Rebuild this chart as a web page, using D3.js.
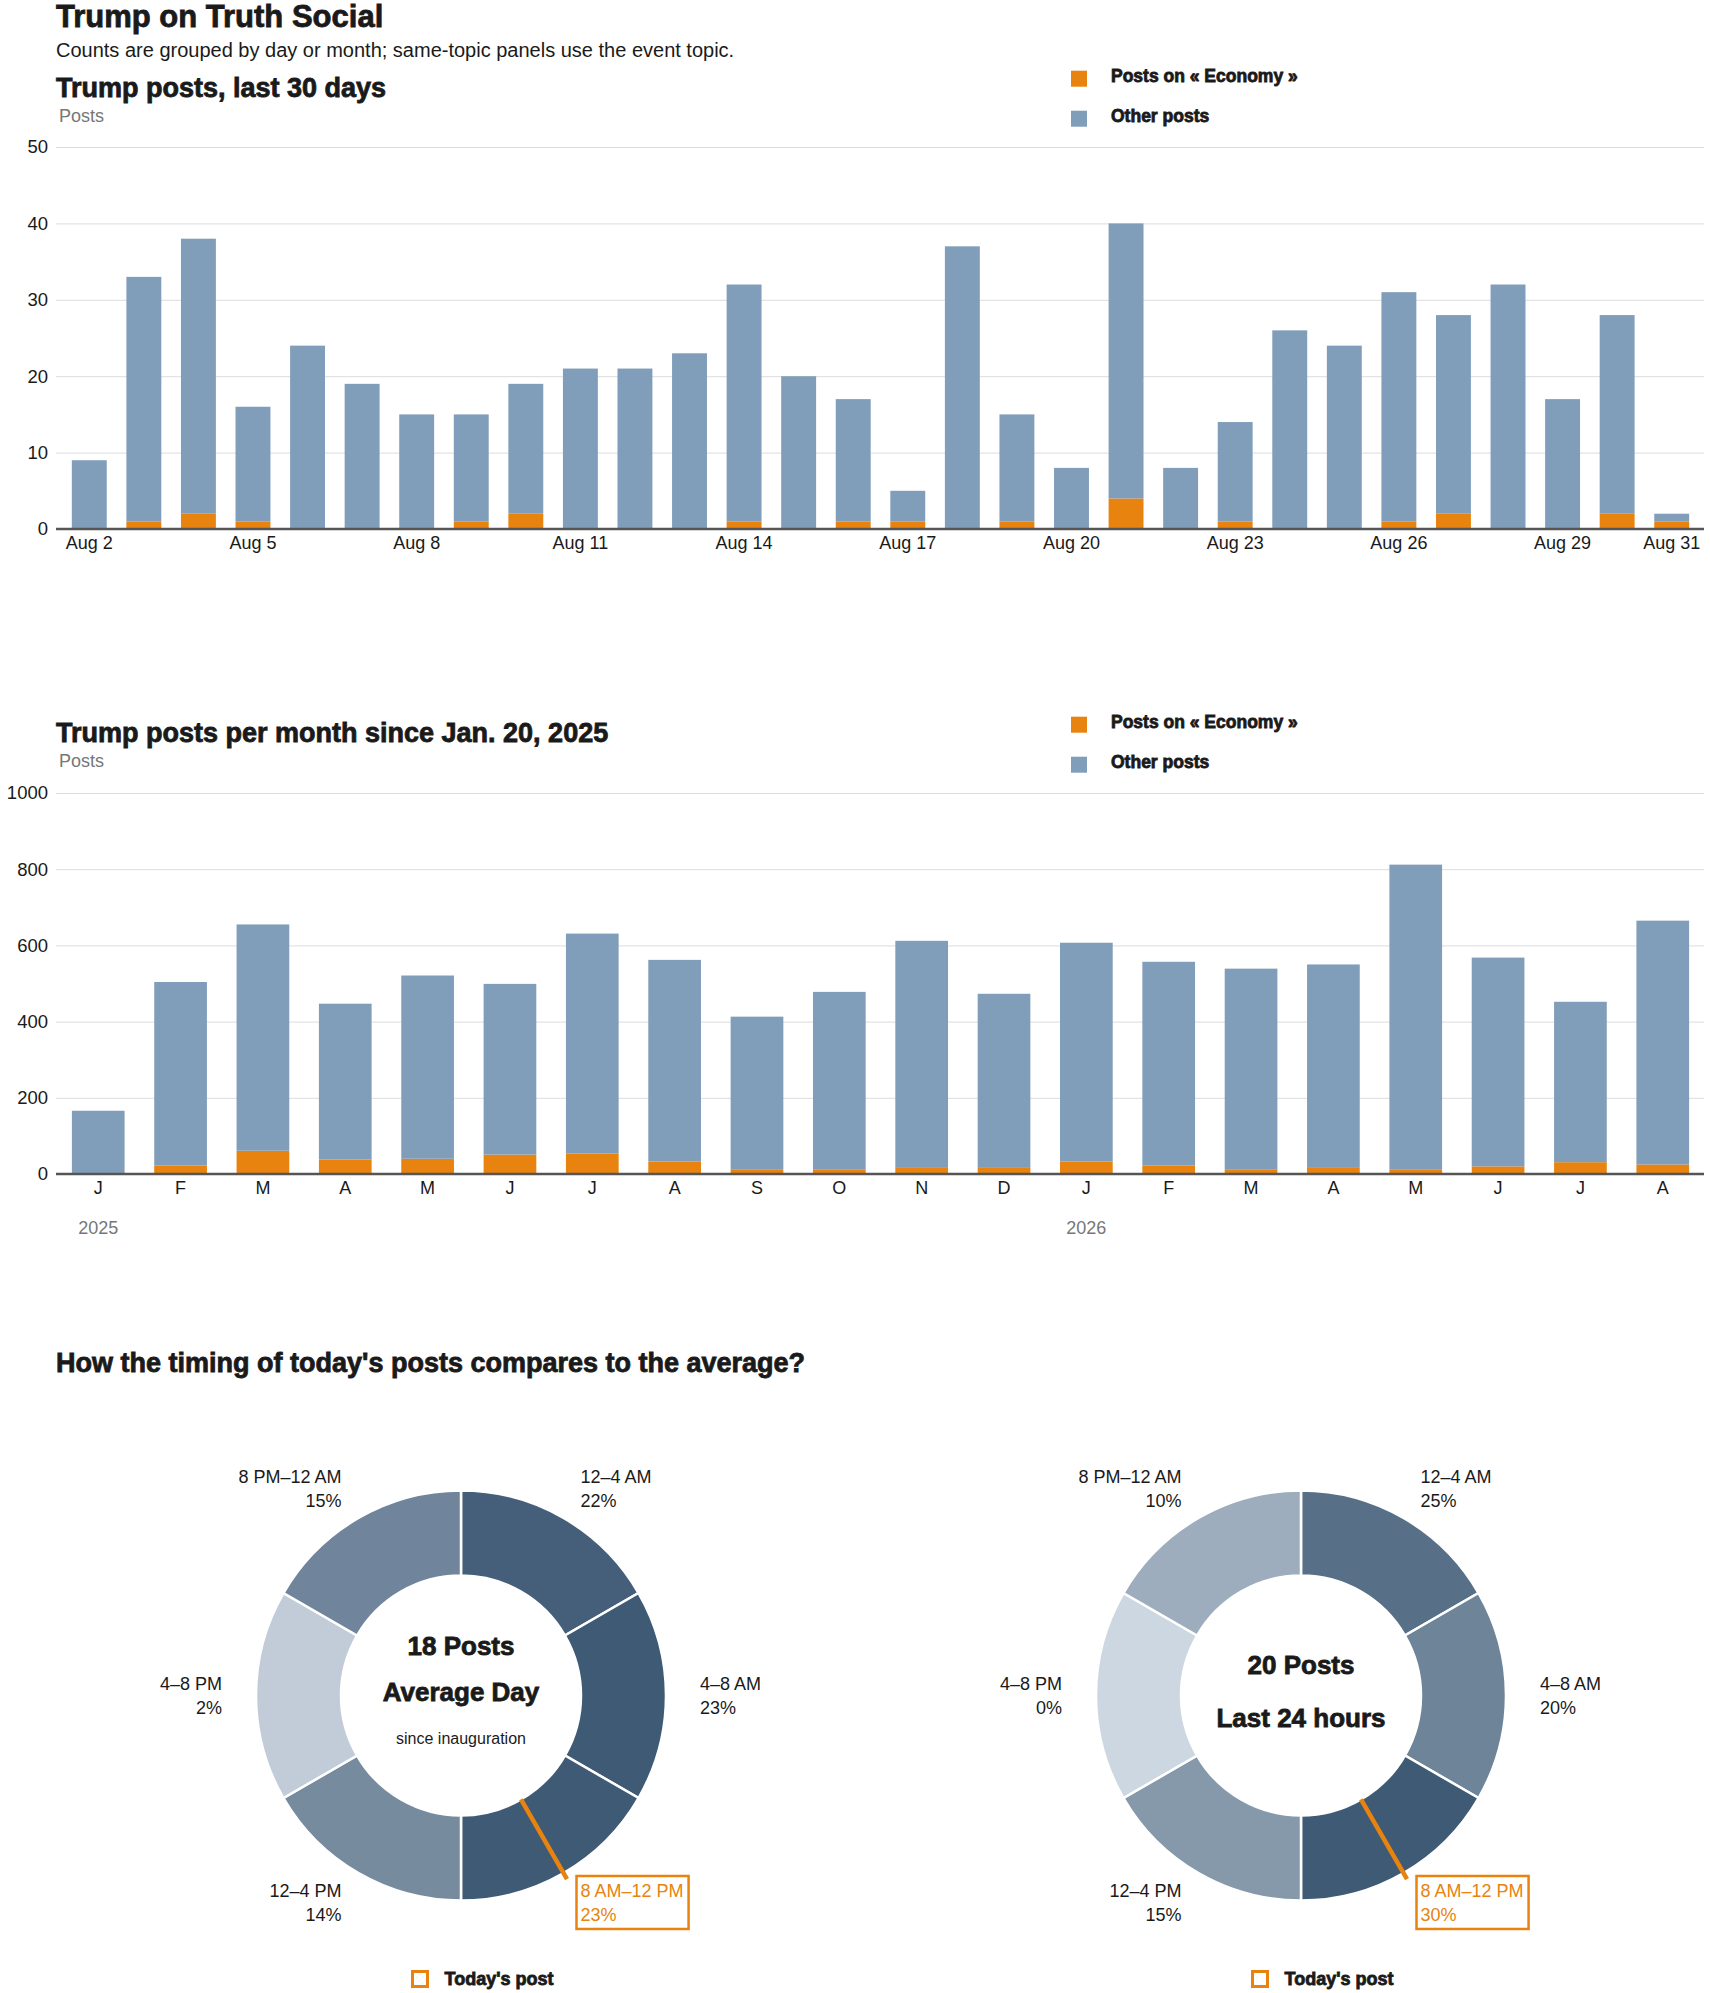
<!DOCTYPE html>
<html>
<head>
<meta charset="utf-8">
<script src="https://cdn.jsdelivr.net/npm/d3@7/dist/d3.min.js"></script>
<style>
  html, body { margin: 0; padding: 0; background: #fff; }
  svg { display: block; font-family: "Liberation Sans", Arial, sans-serif; }
  .heavy { stroke: #1a1a1a; stroke-width: 0.8px; paint-order: stroke; }
</style>
</head>
<body>
<svg id="chart" width="1710" height="1993"></svg>
<script>
// ---------- DATA ----------
const dailyLabels = ["Aug 2","Aug 3","Aug 4","Aug 5","Aug 6","Aug 7","Aug 8","Aug 9","Aug 10","Aug 11",
  "Aug 12","Aug 13","Aug 14","Aug 15","Aug 16","Aug 17","Aug 18","Aug 19","Aug 20","Aug 21",
  "Aug 22","Aug 23","Aug 24","Aug 25","Aug 26","Aug 27","Aug 28","Aug 29","Aug 30","Aug 31"];
const dailyEconomy = [0,1,2,1,0,0,0,1,2,0,0,0,1,0,1,1,0,1,0,4,0,1,0,0,1,2,0,0,2,1];
const dailyOther   = [9,32,36,15,24,19,15,14,17,21,21,23,31,20,16,4,37,14,8,36,8,13,26,24,30,26,32,17,26,1];
const dailyTickLabels = ["Aug 2","Aug 5","Aug 8","Aug 11","Aug 14","Aug 17","Aug 20","Aug 23","Aug 26","Aug 29","Aug 31"];
const dailyYTicks = [0,10,20,30,40,50];

const months = ["2025-01","2025-02","2025-03","2025-04","2025-05","2025-06","2025-07","2025-08","2025-09","2025-10",
  "2025-11","2025-12","2026-01","2026-02","2026-03","2026-04","2026-05","2026-06","2026-07","2026-08"];
const monthLabels = ["J","F","M","A","M","J","J","A","S","O","N","D","J","F","M","A","M","J","J","A"];
const monthlyEconomy = [0,22,61,38,40,51,54,33,11,11,16,16,33,22,11,16,11,20,31,25];
const monthlyOther   = [166,482,594,409,481,448,577,529,402,467,596,457,574,535,528,534,801,548,421,640];
const yearLabels = [{month:"2025-01", label:"2025"}, {month:"2026-01", label:"2026"}];
const monthlyYTicks = [0,200,400,600,800,1000];

const timeSlots = ["12–4 AM","4–8 AM","8 AM–12 PM","12–4 PM","4–8 PM","8 PM–12 AM"];
const averageShares = [22,23,23,14,2,15];
const todayShares   = [25,20,30,15,0,10];
const averagePosts = 18;
const last24Posts = 20;
const todayPostHour = 10;      // time of today's post (hours)
const todayPostSlot = "8 AM–12 PM";

// ---------- STYLE ----------
const ORANGE = "#e8830f";
const BLUE = "#809eba";
const GRID = "#dcdcdc";
const TEXT = "#1a1a1a";

const svg = d3.select("#chart");

// ---------- HEADER ----------
svg.append("text").attr("class", "heavy").attr("x", 56).attr("y", 27)
  .attr("font-size", 31).attr("font-weight", 700).attr("fill", TEXT)
  .text("Trump on Truth Social");
svg.append("text").attr("x", 56).attr("y", 57)
  .attr("font-size", 20).attr("fill", TEXT)
  .text("Counts are grouped by day or month; same-topic panels use the event topic.");

function legend(y0) {
  const items = [{label: "Posts on « Economy »", color: ORANGE}, {label: "Other posts", color: BLUE}];
  const g = svg.append("g");
  items.forEach((d, i) => {
    const cy = y0 + i * 40;
    g.append("rect").attr("x", 1071).attr("y", cy - 8).attr("width", 16).attr("height", 16).attr("fill", d.color);
    g.append("text").attr("class", "heavy").attr("x", 1111).attr("y", cy + 3).attr("font-size", 17.5).attr("font-weight", 700)
      .attr("fill", TEXT).text(d.label);
  });
}

function stackedBars(cfg) {
  const data = cfg.keys.map((k, i) => ({key: k, economy: cfg.economy[i], other: cfg.other[i]}));
  const x = d3.scaleBand().domain(cfg.keys).range([62, 1699])
    .paddingInner(0.36).paddingOuter(cfg.po);
  const y = d3.scaleLinear().domain([0, d3.max(cfg.yTicks)]).range([cfg.y0, cfg.y1]);

  svg.append("text").attr("class", "heavy").attr("x", 56).attr("y", cfg.titleY).attr("font-size", 27).attr("font-weight", 700)
    .attr("fill", TEXT).text(cfg.title);
  svg.append("text").attr("x", 59).attr("y", cfg.titleY + 25).attr("font-size", 18)
    .attr("fill", "#777").text("Posts");

  // grid + y axis
  const yAxis = d3.axisLeft(y).tickValues(cfg.yTicks).tickFormat(d3.format("d"))
    .tickSize(-(1704 - 56)).tickPadding(8);
  const gy = svg.append("g").attr("transform", "translate(56,0)").call(yAxis);
  gy.select(".domain").remove();
  gy.selectAll(".tick line").attr("stroke", GRID).attr("stroke-width", 1);
  gy.selectAll(".tick text").attr("font-size", 18.5).attr("fill", TEXT)
    .attr("font-family", "Liberation Sans, Arial, sans-serif");

  const stack = d3.stack().keys(["economy", "other"])(data);
  const colors = {economy: ORANGE, other: BLUE};
  svg.append("g").selectAll("g").data(stack).join("g").attr("fill", s => colors[s.key])
    .selectAll("rect").data(s => s).join("rect")
    .attr("x", d => x(d.data.key)).attr("width", x.bandwidth())
    .attr("y", d => y(d[1])).attr("height", d => y(d[0]) - y(d[1]));

  // baseline
  svg.append("line").attr("x1", 56).attr("x2", 1704).attr("y1", y(0)).attr("y2", y(0))
    .attr("stroke", "#555").attr("stroke-width", 2.5);

  // x labels
  const xAxis = d3.axisBottom(x).tickValues(cfg.tickKeys).tickFormat(cfg.tickFormat).tickSize(0).tickPadding(0);
  const gx = svg.append("g").attr("transform", `translate(0,${y(0)})`).call(xAxis);
  gx.select(".domain").remove();
  gx.selectAll(".tick text").attr("font-size", 18).attr("fill", TEXT).attr("dy", null).attr("y", 20)
    .attr("font-family", "Liberation Sans, Arial, sans-serif");
  return {x, y};
}

// ---------- CHART 1 ----------
legend(78.7);
stackedBars({
  title: "Trump posts, last 30 days", titleY: 97,
  keys: dailyLabels, economy: dailyEconomy, other: dailyOther,
  yTicks: dailyYTicks, y0: 529, y1: 147, po: 0.18,
  tickKeys: dailyTickLabels, tickFormat: d => d
});

// ---------- CHART 2 ----------
legend(724.7);
const c2 = stackedBars({
  title: "Trump posts per month since Jan. 20, 2025", titleY: 742,
  keys: months, economy: monthlyEconomy, other: monthlyOther,
  yTicks: monthlyYTicks, y0: 1174, y1: 793, po: 0.12,
  tickKeys: months, tickFormat: d => monthLabels[months.indexOf(d)]
});
svg.append("g").selectAll("text").data(yearLabels).join("text")
  .attr("x", d => c2.x(d.month) + c2.x.bandwidth() / 2).attr("y", 1234)
  .attr("text-anchor", "middle").attr("font-size", 18).attr("fill", "#777").text(d => d.label);

// ---------- DONUTS ----------
svg.append("text").attr("class", "heavy").attr("x", 56).attr("y", 1371.5).attr("font-size", 27).attr("font-weight", 700)
  .attr("fill", TEXT).text("How the timing of today's posts compares to the average?");

function donut(cx, cy, shares, centerLines) {
  const outerR = 205, innerR = 120, labelR = 239;
  const g = svg.append("g").attr("transform", `translate(${cx},${cy})`);
  const color = d3.scaleLinear().domain([0, d3.max(shares)]).range(["#cdd7e1", "#3f5a75"]);
  const data = timeSlots.map((s, i) => ({slot: s, share: shares[i]}));
  const pie = d3.pie().value(() => 1).sort(null);
  const arcs = pie(data);
  const arc = d3.arc().innerRadius(innerR).outerRadius(outerR);
  g.selectAll("path").data(arcs).join("path")
    .attr("d", arc).attr("fill", d => color(d.data.share))
    .attr("stroke", "#fff").attr("stroke-width", 2.5);

  // today's post marker
  const a = todayPostHour / 24 * 2 * Math.PI;
  g.append("line")
    .attr("x1", Math.sin(a) * innerR).attr("y1", -Math.cos(a) * innerR)
    .attr("x2", Math.sin(a) * 212).attr("y2", -Math.cos(a) * 212)
    .attr("stroke", ORANGE).attr("stroke-width", 4.5);

  // labels
  arcs.forEach(d => {
    const mid = (d.startAngle + d.endAngle) / 2;
    const px = Math.sin(mid) * labelR, py = -Math.cos(mid) * labelR;
    const anchor = mid < Math.PI ? "start" : "end";
    const hl = d.data.slot === todayPostSlot;
    const t = g.append("text").attr("text-anchor", anchor).attr("font-size", 18)
      .attr("fill", hl ? ORANGE : TEXT);
    t.append("tspan").attr("x", px).attr("y", py - 5.5).text(d.data.slot);
    t.append("tspan").attr("x", px).attr("y", py + 18.5).text(d.data.share + "%");
    if (hl) {
      const bb = t.node().getBBox();
      g.insert("rect", "text").attr("x", bb.x - 4).attr("y", bb.y - 5)
        .attr("width", bb.width + 9).attr("height", bb.height + 9)
        .attr("fill", "none").attr("stroke", ORANGE).attr("stroke-width", 2.5);
    }
  });

  centerLines.forEach(l => {
    g.append("text").attr("class", l.bold ? "heavy" : null).attr("x", 0).attr("y", l.dy).attr("text-anchor", "middle")
      .attr("font-size", l.size).attr("font-weight", l.bold ? 700 : 400).attr("fill", TEXT).text(l.text);
  });

  // legend
  g.append("rect").attr("x", -48.5).attr("y", 276).attr("width", 15).attr("height", 15)
    .attr("fill", "none").attr("stroke", ORANGE).attr("stroke-width", 3);
  g.append("text").attr("class", "heavy").attr("x", -16.5).attr("y", 289).attr("font-size", 18).attr("font-weight", 700)
    .attr("fill", TEXT).text("Today's post");
}

donut(461, 1695.5, averageShares, [
  {text: averagePosts + " Posts", dy: -40.5, size: 26, bold: true},
  {text: "Average Day", dy: 5.5, size: 26, bold: true},
  {text: "since inauguration", dy: 48.5, size: 16, bold: false}
]);
donut(1301, 1695.5, todayShares, [
  {text: last24Posts + " Posts", dy: -21.5, size: 26, bold: true},
  {text: "Last 24 hours", dy: 31.5, size: 26, bold: true}
]);
</script>
</body>
</html>
